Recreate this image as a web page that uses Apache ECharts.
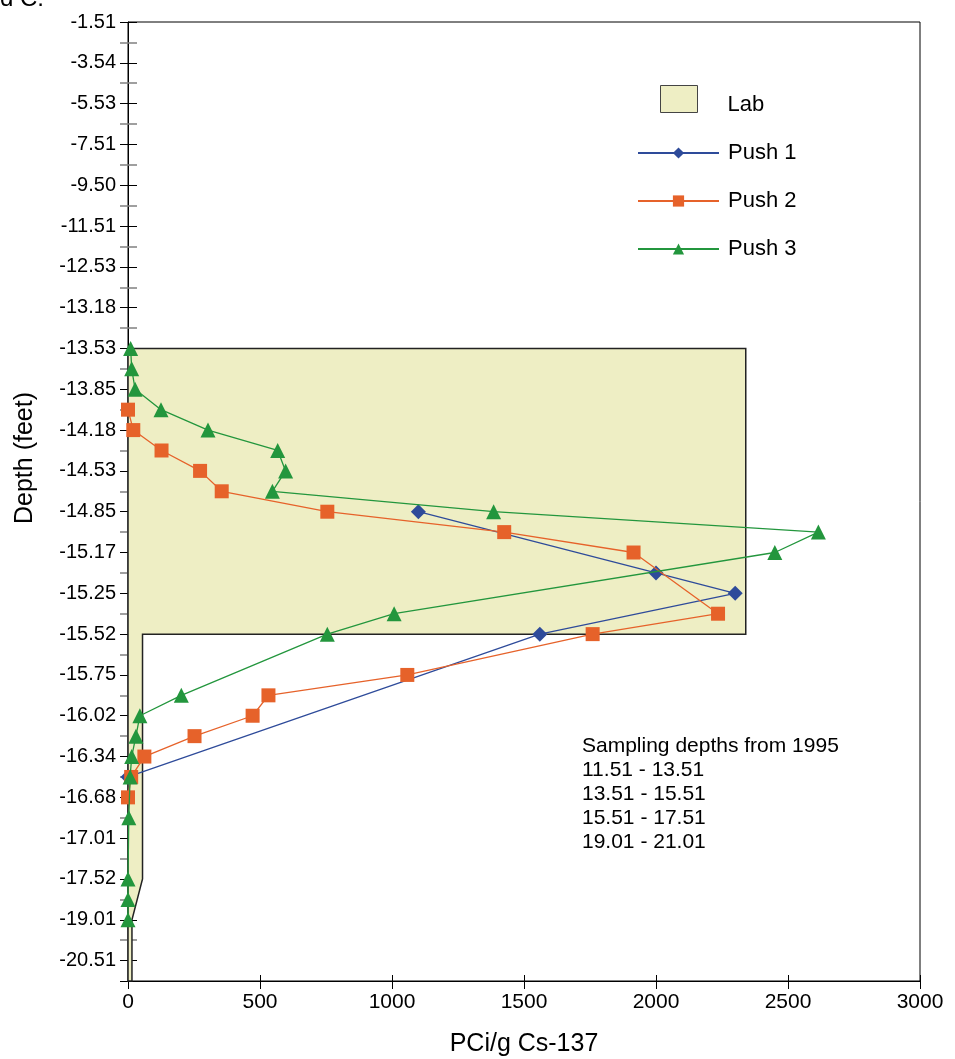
<!DOCTYPE html>
<html>
<head>
<meta charset="utf-8">
<script src="https://cdn.jsdelivr.net/npm/echarts@6/dist/echarts.min.js"></script>
<style>
html,body{margin:0;padding:0;background:#fff;}
#chart{width:955px;height:1059px;}
</style>
</head>
<body>
<div id="chart"></div>
<script>
// Depth tick labels (equally spaced positions on the axis, index 0 at top)
var depthLabels = ['-1.51','-3.54','-5.53','-7.51','-9.50','-11.51','-12.53','-13.18','-13.53','-13.85',
  '-14.18','-14.53','-14.85','-15.17','-15.25','-15.52','-15.75','-16.02','-16.34','-16.68',
  '-17.01','-17.52','-19.01','-20.51'];
var xTicks = [0, 500, 1000, 1500, 2000, 2500, 3000];

// Lab profile outline (PCi/g vs depth position)
var labValue = [0, 2340, 2340, 55, 55, 15, 15, 0];
var labPos   = [8, 8, 15, 15, 21, 22, 23.5, 23.5];

// Push 1
var push1Value = [1100, 2000, 2300, 1560, 0];
var push1Pos   = [12, 13.5, 14, 15, 18.5];

// Push 2
var push2Value = [0, 20, 127, 273, 355, 755, 1425, 1915, 2235, 1760, 1058, 532, 472, 252, 62, 12, 0];
var push2Pos   = [9.5, 10, 10.5, 11, 11.5, 12, 12.5, 13, 14.5, 15, 16, 16.5, 17, 17.5, 18, 18.5, 19];

// Push 3
var push3Value = [10, 14, 27, 125, 303, 567, 597, 547, 1385, 2615, 2450, 1008, 755, 202, 45, 30, 14, 8, 3, 0, 0, 0];
var push3Pos   = [8, 8.5, 9, 9.5, 10, 10.5, 11, 11.5, 12, 12.5, 13, 14.5, 15, 16.5, 17, 17.5, 18, 18.5, 19.5, 21, 21.5, 22];

var noteLines = ['Sampling depths from 1995', '11.51 - 13.51', '13.51 - 15.51', '15.51 - 17.51', '19.01 - 21.01'];

function pairs(v, p) { return v.map(function (x, i) { return [x, p[i]]; }); }

var FONT = '"Liberation Sans", Arial, sans-serif';
var cBlue = '#2E4B9A', cOrange = '#E6622A', cGreen = '#23963D';

var W = 955, H = 1059, GL = 128, GR = 35, GT = 22, GB = 78;
var plotW = W - GL - GR, plotH = H - GT - GB;

var chart = echarts.init(document.getElementById('chart'));
var posMax = depthLabels.length - 0.5;

function yAxisBase() {
  return {
    type: 'value', inverse: true, min: 0, max: posMax, interval: 1,
    splitLine: { show: false }
  };
}
function xAxisBase() {
  return {
    type: 'value', min: xTicks[0], max: xTicks[xTicks.length - 1], interval: xTicks[1] - xTicks[0],
    splitLine: { show: false }
  };
}

chart.setOption({
  animation: false,
  backgroundColor: '#fff',
  grid: {
    left: GL, right: GR, top: GT, bottom: GB, containLabel: false, outerBoundsMode: 'none',
    show: true, borderColor: '#000', borderWidth: 1, backgroundColor: 'transparent'
  },
  legend: [
    {
      data: [{ name: 'Lab', icon: 'rect', itemStyle: { color: '#EEEEC4', borderColor: '#444', borderWidth: 1 } }],
      left: 660, top: 85, padding: 0, itemWidth: 37, itemHeight: 27,
      formatter: function (n) { return '{t|' + n + '}'; },
      textStyle: {
        fontFamily: FONT, fontSize: 22, color: '#000', padding: [0, 0, 0, 25],
        rich: { t: { fontFamily: FONT, fontSize: 22, color: '#000', padding: [12, 0, 0, 0] } }
      },
      selectedMode: false
    },
    {
      data: ['Push 1', 'Push 2', 'Push 3'],
      orient: 'vertical', left: 637, top: 142, padding: 0, itemWidth: 81, itemHeight: 14, itemGap: 26,
      textStyle: { fontFamily: FONT, fontSize: 22, color: '#000', padding: [0, 0, 0, 4] },
      selectedMode: false
    }
  ],
  xAxis: [
    Object.assign(xAxisBase(), {
      position: 'bottom',
      name: 'PCi/g Cs-137', nameLocation: 'middle', nameGap: 51,
      nameTextStyle: { fontFamily: FONT, fontSize: 25, color: '#000' },
      axisLine: { show: true, onZero: false, lineStyle: { color: '#000', width: 1 } },
      axisTick: { show: true, length: 8, lineStyle: { color: '#000' } },
      axisLabel: { fontFamily: FONT, fontSize: 21, color: '#000', margin: 11, formatter: function (v) { return String(v); } }
    }),
    Object.assign(xAxisBase(), {
      position: 'top', offset: -plotH,
      axisLine: { show: false, onZero: false },
      axisTick: { show: true, length: 6, lineStyle: { color: '#000' } },
      axisLabel: { show: false }
    })
  ],
  yAxis: [
    Object.assign(yAxisBase(), {
      position: 'left',
      axisLine: { show: true, onZero: false, lineStyle: { color: '#000', width: 1 } },
      axisTick: { show: true, length: 8, lineStyle: { color: '#000' } },
      minorTick: { show: true, splitNumber: 2, length: 8, lineStyle: { color: '#808080', width: 1.5 } },
      axisLabel: {
        fontFamily: FONT, fontSize: 20, color: '#000', margin: 12,
        formatter: function (v) { return Number.isInteger(v) ? (depthLabels[v] || '') : ''; }
      }
    }),
    Object.assign(yAxisBase(), {
      position: 'right', offset: -plotW,
      axisLine: { show: false, onZero: false },
      axisTick: { show: true, length: 9, lineStyle: { color: '#000' } },
      minorTick: { show: true, splitNumber: 2, length: 9, lineStyle: { color: '#808080', width: 1.5 } },
      axisLabel: { show: false }
    })
  ],
  graphic: [
    {
      type: 'text', x: 25, y: 458, rotation: Math.PI / 2,
      style: { text: 'Depth (feet)', font: '25px ' + FONT, fill: '#000', textAlign: 'center', textVerticalAlign: 'middle' }
    },
    {
      type: 'text', left: 582, top: 734,
      style: { text: noteLines.join('\n'), font: '21px ' + FONT, fill: '#000', lineHeight: 24 }
    },
    {
      type: 'text', left: 0, top: -13,
      style: { text: 'd C.', font: '24px ' + FONT, fill: '#000' }
    }
  ],
  series: [
    {
      name: 'Lab', type: 'custom', z: 1, silent: true,
      data: [0],
      renderItem: function (params, api) {
        var pts = labValue.map(function (v, i) { return api.coord([v, labPos[i]]); });
        return {
          type: 'polygon',
          shape: { points: pts },
          style: { fill: '#EEEEC4', stroke: '#222', lineWidth: 1.5 }
        };
      }
    },
    {
      name: 'Push 1', type: 'line', z: 3, data: pairs(push1Value, push1Pos),
      symbol: 'diamond', symbolSize: 15,
      lineStyle: { color: cBlue, width: 1.3 }, itemStyle: { color: cBlue }
    },
    {
      name: 'Push 2', type: 'line', z: 4, data: pairs(push2Value, push2Pos),
      symbol: 'rect', symbolSize: 14,
      lineStyle: { color: cOrange, width: 1.3 }, itemStyle: { color: cOrange }
    },
    {
      name: 'Push 3', type: 'line', z: 5, data: pairs(push3Value, push3Pos),
      symbol: 'triangle', symbolSize: 15,
      lineStyle: { color: cGreen, width: 1.3 }, itemStyle: { color: cGreen }
    }
  ]
});
</script>
</body>
</html>
